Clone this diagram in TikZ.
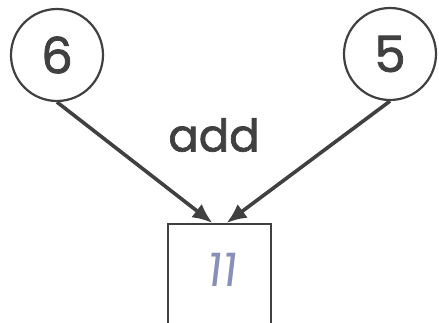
\documentclass[tikz,border=0pt]{standalone}
\usepackage{fontspec}
\setmainfont{Poppins}[FakeBold=1.5]
\newfontfamily\handfont{Poppins}[FakeSlant=0.12]
\usetikzlibrary{arrows.meta,positioning}
\definecolor{inkGray}{HTML}{404040}
\definecolor{penBlue}{HTML}{8890B8}

\begin{document}
\begin{tikzpicture}[
    x=1pt, y=-1pt,
    num/.style={circle, draw=inkGray, line width=2.2pt, minimum size=92pt, inner sep=0pt, font=\fontsize{50}{50}\selectfont, text=inkGray},
    result/.style={draw=inkGray, line width=2.2pt, minimum width=103pt, minimum height=120pt, anchor=north},
    opname/.style={font=\fontsize{45}{45}\selectfont, text=inkGray},
    hand/.style={font=\handfont\fontsize{46}{46}\selectfont, text=penBlue},
    arr/.style={-{Latex[length=20pt, width=17pt]}, line width=3.6pt, inkGray}
]
\useasboundingbox (0,0) rectangle (439,322);

% Two inputs.
\node[num] (six) at (57,55) {6};
\node[num] (five) at (390,54) {5};

% Operation and its result.
\node[opname] (op) at (214,135) {add};
\node[result] (sum) at (219.5,223) {};
\node[hand] (total) at (221,270) {11};

\draw[arr] (six.south) -- ([xshift=-7pt]sum.north);
\draw[arr] (five.south) -- ([xshift=7pt]sum.north);
\end{tikzpicture}
\end{document}
